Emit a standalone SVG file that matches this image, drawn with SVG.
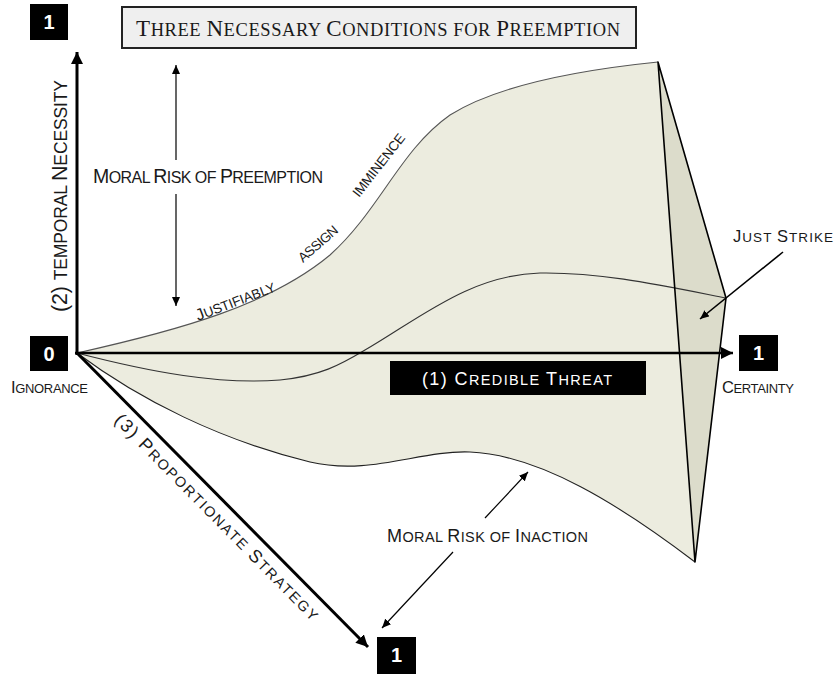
<svg xmlns="http://www.w3.org/2000/svg" width="835" height="674" viewBox="0 0 835 674">
<style>
.sc{font-family:"Liberation Sans",Arial,sans-serif;fill:#1a1a1a}
.num{font-family:"Liberation Sans",Arial,sans-serif;font-weight:bold;fill:#fff;font-size:20px;text-anchor:middle}
.box{fill:#000}
.axis{stroke:#000;stroke-width:3;fill:none}
.thin{stroke:#000;stroke-width:1.2;fill:none}
.curve{stroke:#555;stroke-width:1.1;fill:none}
.edge{stroke:#000;stroke-width:1.6;fill:none;stroke-linejoin:round}
</style>
<defs>
<marker id="ah" markerUnits="userSpaceOnUse" markerWidth="14" markerHeight="12" refX="12" refY="6" orient="auto"><path d="M0,0 L12,6 L0,12 Z" fill="#000"/></marker>
<marker id="as" markerUnits="userSpaceOnUse" markerWidth="10" markerHeight="8" refX="9" refY="4" orient="auto"><path d="M0,0 L9,4 L0,8 Z" fill="#000"/></marker>
</defs>

<g id="surface">
<path d="M77,353 C180,330 270,305 330,255 C380,210 400,150 450,115 C490,90 560,72 658,62 L695,562 C620,505 540,455 470,452 C420,450 370,476 310,462 C220,440 140,400 77,353 Z" fill="#ececdf"/>
<polygon points="658,62 726,298 695,562" fill="#dcdccb"/>
<path class="curve" d="M77,353 C180,330 270,305 330,255 C380,210 400,150 450,115 C490,90 560,72 658,62"/>
<path class="curve" style="stroke:#333" d="M77,353 C150,372 220,385 280,380 C320,376 340,365 365,350 C420,318 470,275 540,273 C600,272 660,285 726,298"/>
<path class="curve" style="stroke:#222" d="M77,353 C140,400 220,440 310,462 C370,476 420,450 470,452 C540,455 620,505 695,562"/>
<path class="edge" d="M658,62 L726,298 L695,562 Z"/>
</g>

<g id="connectors">
<line class="axis" x1="77" y1="355" x2="77" y2="52" marker-end="url(#ah)"/>
<line class="axis" style="stroke-width:2.5" x1="75" y1="353" x2="733" y2="353" marker-end="url(#ah)"/>
<line class="axis" x1="77" y1="353" x2="368" y2="647" marker-end="url(#ah)"/>
<line class="thin" x1="176" y1="160" x2="176" y2="65" marker-end="url(#as)"/>
<line class="thin" x1="176" y1="194" x2="176" y2="306" marker-end="url(#as)"/>
<line class="thin" x1="453" y1="552" x2="382" y2="628" marker-end="url(#as)"/>
<line class="thin" x1="485" y1="518" x2="528" y2="472" marker-end="url(#as)"/>
<line class="thin" style="stroke-width:1.6" x1="783" y1="252" x2="700" y2="319" marker-end="url(#as)"/>
</g>

<g id="title">
<rect x="122" y="7" width="514" height="41" fill="#efefef" stroke="#222" stroke-width="2"/>
<text x="136" y="36" font-family="'Liberation Serif','Times New Roman',serif" font-size="18.5" fill="#1a1a1a" textLength="484"><tspan font-size="23">T</tspan>HREE <tspan font-size="23">N</tspan>ECESSARY <tspan font-size="23">C</tspan>ONDITIONS FOR <tspan font-size="23">P</tspan>REEMPTION</text>
</g>

<g id="top-one"><rect class="box" x="30" y="4" width="38" height="36"/><text class="num" x="49" y="29">1</text></g>
<g id="origin-zero"><rect class="box" x="30" y="336" width="38" height="35"/><text class="num" x="49" y="361">0</text><text class="sc" x="11" y="393" font-size="13" textLength="77"><tspan font-size="16.5">I</tspan>GNORANCE</text></g>
<g id="right-one"><rect class="box" x="739" y="335" width="39" height="36"/><text class="num" x="758.5" y="360">1</text><text class="sc" x="722" y="393" font-size="13" textLength="72"><tspan font-size="16.5">C</tspan>ERTAINTY</text></g>
<g id="bottom-one"><rect class="box" x="377" y="637" width="39" height="37"/><text class="num" x="396.5" y="662">1</text></g>

<g id="credible-threat"><rect class="box" x="390" y="361" width="256" height="34"/><text class="sc" style="fill:#fff" x="422" y="385" font-size="14.5" textLength="190"><tspan font-size="18">(1) C</tspan>REDIBLE <tspan font-size="18">T</tspan>HREAT</text></g>

<g id="temporal-necessity"><text class="sc" transform="translate(67,196) rotate(-90)" text-anchor="middle" font-size="17.5" textLength="232"><tspan font-size="21.5">(2) </tspan>TEMPORAL <tspan font-size="21.5">N</tspan>ECESSITY</text></g>
<g id="proportionate-strategy"><text class="sc" transform="translate(77,353) rotate(45.3)" x="74" y="22" font-size="14.5" textLength="282"><tspan font-size="18">(3) P</tspan>ROPORTIONATE <tspan font-size="18">S</tspan>TRATEGY</text></g>

<g id="moral-risk-preemption"><text class="sc" x="93" y="183" font-size="16" textLength="230"><tspan font-size="19.5">M</tspan>ORAL <tspan font-size="19.5">R</tspan>ISK OF <tspan font-size="19.5">P</tspan>REEMPTION</text></g>
<g id="moral-risk-inaction"><text class="sc" x="387" y="542" font-size="14.5" textLength="201"><tspan font-size="18">M</tspan>ORAL <tspan font-size="18">R</tspan>ISK OF <tspan font-size="18">I</tspan>NACTION</text></g>
<g id="just-strike"><text class="sc" x="733" y="242" font-size="13.5" textLength="100"><tspan font-size="16.5">J</tspan>UST <tspan font-size="16.5">S</tspan>TRIKE</text></g>

<g id="curve-labels">
<text class="sc" transform="translate(198,321) rotate(-21)" font-size="13.5" textLength="84"><tspan font-size="16.5">J</tspan>USTIFIABLY</text>
<text class="sc" transform="translate(303,263) rotate(-41)" font-size="13.5" textLength="48">ASSIGN</text>
<text class="sc" transform="translate(359,198) rotate(-52)" font-size="13.5" textLength="76">IMMINENCE</text>
</g>
</svg>
